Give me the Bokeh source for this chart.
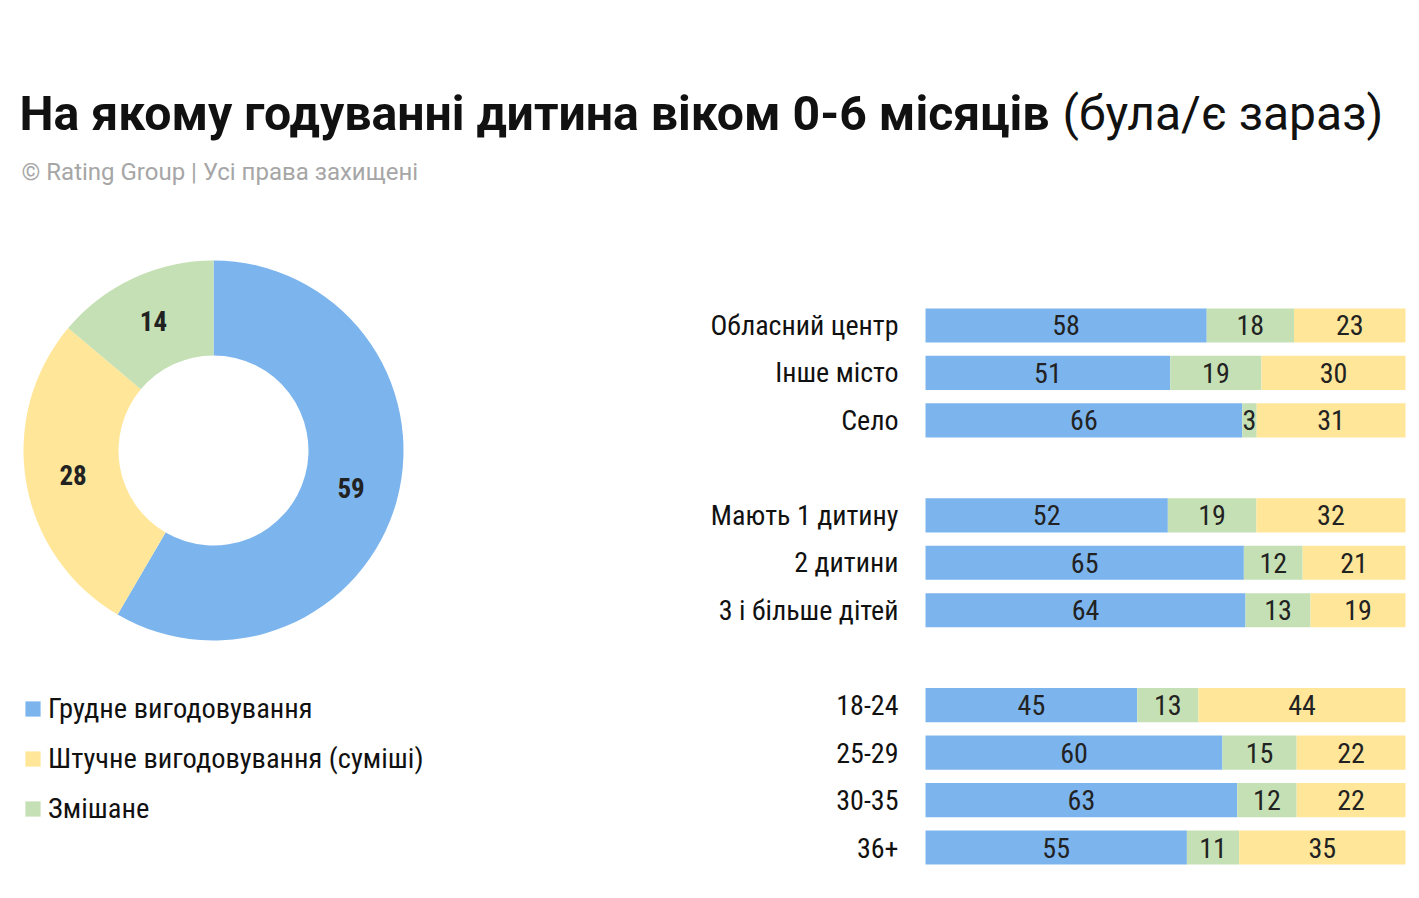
import math
from bokeh.plotting import figure
from bokeh.models import Range1d, FactorRange, Label, Legend, LegendItem, ColumnDataSource, Spacer
from bokeh.layouts import column, row
from bokeh.core.properties import value
from bokeh.embed import file_html
from bokeh.resources import INLINE

# ---------------- data ----------------
title_bold = "На якому годуванні дитина віком 0-6 місяців"
title_regular = "(була/є зараз)"
subtitle = "© Rating Group | Усі права захищені"

series_names = ["Грудне вигодовування", "Штучне вигодовування (суміші)", "Змішане"]
series_colors = ["#7CB5EE", "#FFE699", "#C5E0B4"]

donut_values = [59, 28, 14]  # грудне, штучне, змішане

groups = ["Тип населеного пункту"] * 3 + ["Кількість дітей"] * 3 + ["Вік"] * 4
categories = ["Обласний центр", "Інше місто", "Село",
              "Мають 1 дитину", "2 дитини", "3 і більше дітей",
              "18-24", "25-29", "30-35", "36+"]
breast = [58, 51, 66, 52, 65, 64, 45, 60, 63, 55]
mixed = [18, 19, 3, 19, 12, 13, 13, 15, 12, 11]
formula = [23, 30, 31, 32, 21, 19, 44, 22, 22, 35]

COND = "Roboto Condensed, Roboto"
BOLD = "Roboto"

# ---------------- title figure ----------------
W = 1415
TOP_H = 208
top = figure(width=W, height=TOP_H, x_range=Range1d(0, W), y_range=Range1d(0, TOP_H),
             output_backend="svg", toolbar_location=None, x_axis_type=None, y_axis_type=None,
             min_border=0, outline_line_color=None)
top.add_layout(Label(x=19, y=95, x_units="screen", y_units="screen", text=title_bold,
                     text_font=BOLD, text_font_style="bold", text_font_size="48.2px",
                     text_color="#111111", text_baseline="alphabetic"))
top.add_layout(Label(x=1062, y=95, x_units="screen", y_units="screen", text=title_regular,
                     text_font=BOLD, text_font_style="normal", text_font_size="48px",
                     text_color="#111111", text_baseline="alphabetic"))
top.add_layout(Label(x=21, y=37, x_units="screen", y_units="screen", text=subtitle,
                     text_font=BOLD, text_font_size="24px", text_color="#A6A6A6",
                     text_baseline="alphabetic"))

# ---------------- donut figure ----------------
H = 686
LW = 688
left = figure(width=LW, height=H, x_range=Range1d(-213, LW - 213), y_range=Range1d(-444, 242),
              output_backend="svg", toolbar_location=None, x_axis_type=None, y_axis_type=None,
              min_border=0, outline_line_color=None)

total = sum(donut_values)
starts, ends, lx, ly = [], [], [], []
acc = 0
for v in donut_values:
    a0 = math.pi / 2 - 2 * math.pi * acc / total
    a1 = math.pi / 2 - 2 * math.pi * (acc + v) / total
    mid = (a0 + a1) / 2
    starts.append(a0)
    ends.append(a1)
    lx.append(142.5 * math.cos(mid))
    ly.append(142.5 * math.sin(mid))
    acc += v

dsrc = ColumnDataSource(dict(start=starts, end=ends, color=series_colors,
                             lx=lx, ly=ly, txt=[str(v) for v in donut_values]))
wedges = left.annular_wedge(x=0, y=0, inner_radius=95, outer_radius=190,
                            start_angle="start", end_angle="end", direction="clock",
                            fill_color="color", line_color=None, source=dsrc)
left.text(x="lx", y="ly", text="txt", source=dsrc, text_align="center", text_baseline="middle",
          text_font=value(COND), text_font_style="bold", text_font_size="27px", text_color="#222222")

legend = Legend(items=[LegendItem(label=n, renderers=[wedges], index=i) for i, n in enumerate(series_names)],
                location=(23, 69), orientation="vertical", glyph_width=19, glyph_height=19,
                label_standoff=6, label_text_font=COND, label_text_font_size="28.5px",
                label_text_color="#111111", label_height=34, spacing=16, padding=0, margin=0,
                border_line_color=None, background_fill_alpha=0)
left.add_layout(legend)

# ---------------- bar figure ----------------
RW = W - LW
GAP = 70
factors = list(zip(groups, categories))
yr = FactorRange(factors=factors[::-1], group_padding=1.0, range_padding=0.49,
                 range_padding_units="absolute")
right = figure(width=RW, height=H - GAP, x_range=Range1d(-49.375, (RW - 237) / 4.8), y_range=yr,
               output_backend="svg", toolbar_location=None, x_axis_type=None, y_axis_type=None,
               min_border=0, outline_line_color=None)

order = [(breast, series_colors[0]), (mixed, series_colors[2]), (formula, series_colors[1])]
totals = [b + m + f for b, m, f in zip(breast, mixed, formula)]
cum = [0.0] * len(categories)
for vals, col in order:
    l = [c for c in cum]
    r = [c + 100.0 * v / t for c, v, t in zip(cum, vals, totals)]
    src = ColumnDataSource(dict(y=factors, left=l, right=r,
                                mid=[(a + b) / 2 for a, b in zip(l, r)],
                                txt=[str(v) for v in vals]))
    right.hbar(y="y", left="left", right="right", height=0.72, fill_color=col,
               line_color=None, source=src)
    right.text(x="mid", y="y", text="txt", source=src, text_align="center", text_baseline="middle",
               text_font=value(COND), text_font_size="28px", text_color="#222222")
    cum = r

lsrc = ColumnDataSource(dict(y=factors, x=[0] * len(factors), txt=categories))
right.text(x="x", y="y", text="txt", source=lsrc, x_offset=-27, text_align="right",
           text_baseline="middle", text_font=value(COND), text_font_size="28px", text_color="#111111")

layout = column(top, row(left, column(Spacer(width=RW, height=GAP), right, spacing=0), spacing=0),
                spacing=0)
open("out.html", "w").write(file_html(layout, INLINE))
